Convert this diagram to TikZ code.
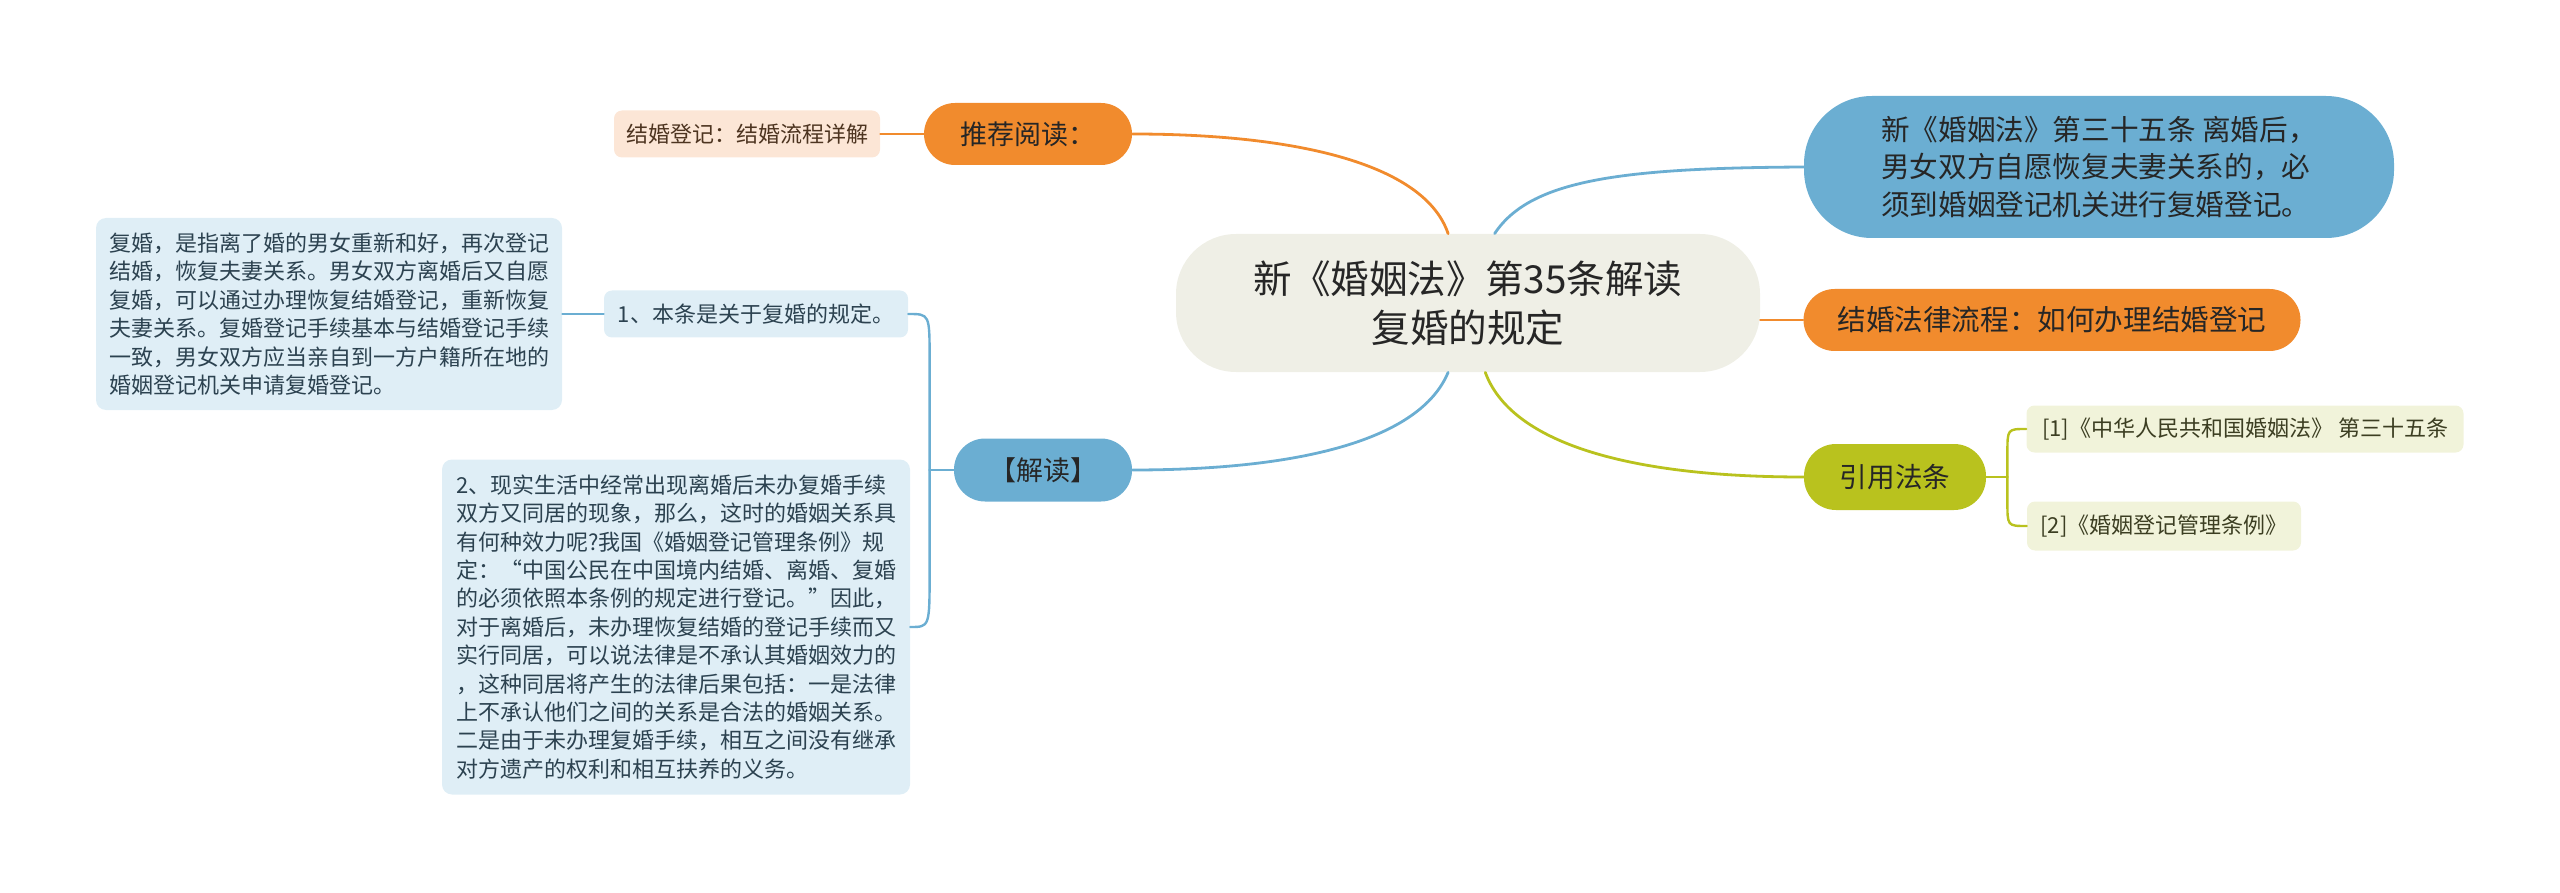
\documentclass[tikz,border=0pt]{standalone}
\usepackage{fontspec}
\setmainfont{Noto Sans CJK SC}
\usepackage{tikz}
\usetikzlibrary{positioning, calc}
\definecolor{orangeM}{HTML}{F18B2D}
\definecolor{blueM}{HTML}{6BAED2}
\definecolor{greenM}{HTML}{B9C21E}
\definecolor{centreFill}{HTML}{EFEFE6}
\definecolor{orangeL}{HTML}{FCE6D6}
\definecolor{blueL}{HTML}{DFEEF6}
\definecolor{greenL}{HTML}{F1F3DA}
\definecolor{textDark}{HTML}{262626}
\definecolor{textBrown}{HTML}{4D3420}
\definecolor{textBlue}{HTML}{2C4250}
\definecolor{textGreen}{HTML}{3C3E22}
\tikzset{
    centre/.style ={rectangle, fill=centreFill, rounded corners=30pt, minimum width=292pt,
                    minimum height=69pt, align=center, text=textDark,
                    font=\fontsize{19.3}{24.5}\selectfont},
    pill/.style = {rectangle, rounded corners=#1, inner sep=0pt, align=left, text=textDark},
    pill/.default = 15.5pt,
    leaf/.style = {rectangle, rounded corners=4pt, inner sep=0pt, align=left,
                   font=\fontsize{11}{14.2}\selectfont},
    link/.style = {line width=1.4pt},
    branch/.style = {line width=1.2pt}
    }

\begin{document}
\begin{tikzpicture}[
      x = 0.5pt, % one pixel of the layout
      y = -0.5pt, % rows run downwards
      line cap = round
    ]
    \useasboundingbox (0,0) rectangle (2560,893);

    \node[centre] (1) at (1468,303) {新《婚姻法》第35条解读\\复婚的规定};
    \node[pill, fill=orangeM, minimum width=104pt, minimum height=31pt,
          font=\fontsize{13.5}{15}\selectfont] (2) at (1028,134) {推荐阅读：};
    \node[leaf, fill=orangeL, text=textBrown, minimum width=133pt,
          minimum height=23.5pt] (3) at (747,134) {结婚登记：结婚流程详解};
    \node[pill=34pt, fill=blueM, minimum width=295pt, minimum height=71pt,
          font=\fontsize{14.3}{18.8}\selectfont] (4) at (2099,167)
          {新《婚姻法》第三十五条 离婚后，\\男女双方自愿恢复夫妻关系的，必\\须到婚姻登记机关进行复婚登记。};
    \node[pill, fill=orangeM, minimum width=248.5pt, minimum height=31pt,
          font=\fontsize{14.3}{16}\selectfont] (5) at (2052,320) {结婚法律流程：如何办理结婚登记};
    \node[pill=16pt, fill=greenM, minimum width=91pt, minimum height=33pt,
          font=\fontsize{13.8}{15}\selectfont] (6) at (1895,477) {引用法条};
    \node[leaf, fill=greenL, text=textGreen, minimum width=218.5pt,
          minimum height=23.5pt] (7) at (2245,429) {[1]《中华人民共和国婚姻法》 第三十五条};
    \node[leaf, fill=greenL, text=textGreen, minimum width=137pt,
          minimum height=24.5pt] (8) at (2164,526) {[2]《婚姻登记管理条例》};
    \node[pill, fill=blueM, minimum width=89pt, minimum height=31.5pt,
          font=\fontsize{13.5}{15}\selectfont] (9) at (1043,470) {【解读】};
    \node[leaf, fill=blueL, text=textBlue, minimum width=152pt,
          minimum height=23.5pt] (10) at (756,314) {1、本条是关于复婚的规定。};
    \node[leaf, fill=blueL, text=textBlue, rounded corners=5pt, minimum width=233pt,
          minimum height=96pt] (11) at (329,314)
          {复婚，是指离了婚的男女重新和好，再次登记\\结婚，恢复夫妻关系。男女双方离婚后又自愿\\复婚，可以通过办理恢复结婚登记，重新恢复\\夫妻关系。复婚登记手续基本与结婚登记手续\\一致，男女双方应当亲自到一方户籍所在地的\\婚姻登记机关申请复婚登记。};
    \node[leaf, fill=blueL, text=textBlue, rounded corners=5pt, minimum width=234pt,
          minimum height=167.5pt] (12) at (676,627)
          {2、现实生活中经常出现离婚后未办复婚手续\\双方又同居的现象，那么，这时的婚姻关系具\\有何种效力呢?我国《婚姻登记管理条例》规\\定：“中国公民在中国境内结婚、离婚、复婚\\的必须依照本条例的规定进行登记。”因此，\\对于离婚后，未办理恢复结婚的登记手续而又\\实行同居，可以说法律是不承认其婚姻效力的\\，这种同居将产生的法律后果包括：一是法律\\上不承认他们之间的关系是合法的婚姻关系。\\二是由于未办理复婚手续，相互之间没有继承\\对方遗产的权利和相互扶养的义务。};

    \draw[link, orangeM] (1.106) .. controls (1425,165) and (1300,134) .. (2.east);
    \draw[link, blueM] (1.69) .. controls (1530,180) and (1620,168) .. (4.west);
    \draw[link, orangeM] (1.east |- 5.west) -- (5.west);
    \draw[link, greenM] (1.284) .. controls (1510,440) and (1620,477) .. (6.west);
    \draw[link, blueM] (1.254) .. controls (1420,440) and (1300,470) .. (9.east);

    \draw[branch, orangeM] (2.west) -- (3.east);
    \draw[branch, blueM] (10.west) -- (11.east);

    \coordinate (j) at ($(9.west)+(-24,0)$);
    \draw[branch, blueM] (9.west) -- (j);
    \draw[branch, blueM] (j) -- ($(j |- 10.east)+(0,45)$) .. controls (j |- 10.east) .. (10.east);
    \draw[branch, blueM] (j) -- ($(j |- 12.east)+(0,-55)$) .. controls (j |- 12.east) .. (12.east);

    \coordinate (k) at ($(6.east)+(21,0)$);
    \draw[branch, greenM] (6.east) -- (k);
    \draw[branch, greenM] (k) -- ($(k |- 7.west)+(0,24)$) .. controls (k |- 7.west) .. (7.west);
    \draw[branch, greenM] (k) -- ($(k |- 8.west)+(0,-24)$) .. controls (k |- 8.west) .. (8.west);

\end{tikzpicture}
\end{document}
